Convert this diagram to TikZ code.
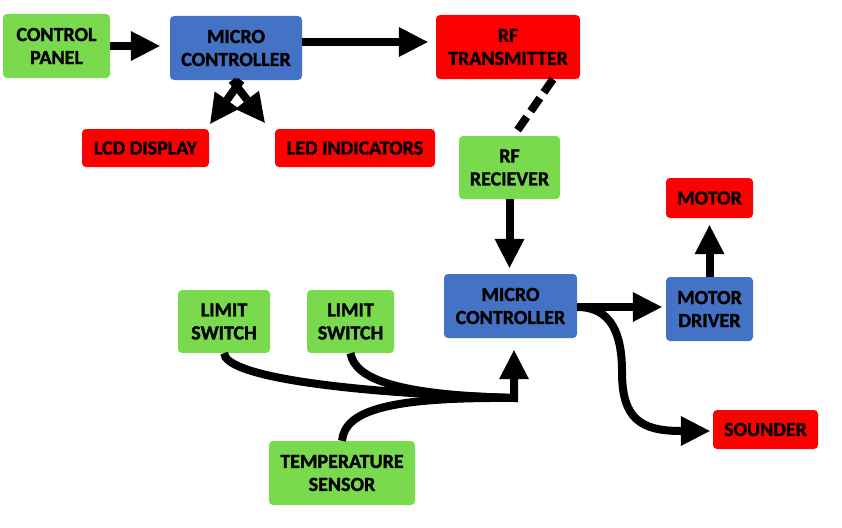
\documentclass[tikz,border=0pt]{standalone}
\usepackage{fontspec}
\setmainfont{Carlito}
\usetikzlibrary{arrows.meta,calc}
\definecolor{gfill}{RGB}{122,218,78}
\definecolor{bfill}{RGB}{68,114,196}
\definecolor{rfill}{RGB}{255,0,0}
\tikzset{
  box/.style={rounded corners=4pt, draw=none, align=center, inner sep=0pt,
    font=\bfseries\fontsize{20}{23}\selectfont\addfontfeatures{FakeBold=1.5}, text=black},
  gbox/.style={box, fill=gfill},
  bbox/.style={box, fill=bfill},
  rbox/.style={box, fill=rfill},
  wire/.style={line width=8pt, draw=black},
  arr/.style={wire, -{Triangle[width=30pt,length=29pt,line width=0pt]}},
}
\begin{document}
\begin{tikzpicture}[x=1pt,y=-1pt]
\useasboundingbox (0,0) rectangle (842,527);
% nodes
\node[gbox, minimum width=107pt, minimum height=64pt] (cp) at (56.5,46) {CONTROL\\PANEL};
\node[bbox, minimum width=132pt, minimum height=64pt] (mc1) at (236,48) {MICRO\\CONTROLLER};
\node[rbox, minimum width=144pt, minimum height=64pt] (rft) at (508,47) {RF\\TRANSMITTER};
\node[rbox, minimum width=127pt, minimum height=38pt] (lcd) at (145.5,148) {LCD DISPLAY};
\node[rbox, minimum width=160pt, minimum height=38pt] (led) at (355,148) {LED INDICATORS};
\node[gbox, minimum width=101pt, minimum height=63pt] (rfr) at (509.5,167.5) {RF\\RECIEVER};
\node[rbox, minimum width=87pt, minimum height=40pt] (motor) at (709.5,198) {MOTOR};
\node[bbox, minimum width=133pt, minimum height=64pt] (mc2) at (510.5,306) {MICRO\\CONTROLLER};
\node[bbox, minimum width=87pt, minimum height=64pt] (md) at (709.5,309) {MOTOR\\DRIVER};
\node[gbox, minimum width=92pt, minimum height=63pt] (ls1) at (224,321.5) {LIMIT\\SWITCH};
\node[gbox, minimum width=87pt, minimum height=63pt] (ls2) at (350.5,321.5) {LIMIT\\SWITCH};
\node[gbox, minimum width=146pt, minimum height=64pt] (ts) at (342,473) {TEMPERATURE\\SENSOR};
\node[rbox, minimum width=105pt, minimum height=39pt] (snd) at (765.5,429.5) {SOUNDER};
% helper coordinates
\coordinate (a1) at ($(mc1.east)+(0,-6)$);
\coordinate (a2) at ($(mc2.east)+(0,1)$);
\coordinate (m) at (514,398);
% connectors
\draw[arr, shorten >=10pt] (cp.east) -- (cp.east -| mc1.west);
\draw[arr, shorten >=8pt] (a1) -- (a1 -| rft.west);
\draw[arr] ($(mc1.south)+(5,0)$) -- ($(lcd.north east)+(1,-5)$);
\draw[arr] ($(mc1.south)+(-4,0)$) -- ($(led.north west)+(-10,-6)$);
\draw[wire, dash pattern=on 16pt off 7pt] ($(rft.south)+(45,0)$) -- ($(rfr.north)+(5.5,-2)$);
\draw[arr, shorten >=6pt] (rfr.south) -- (rfr.south |- mc2.north);
\draw[arr, shorten >=4pt] (a2) -- (a2 -| md.west);
\draw[arr, shorten >=7pt] (md.north) -- (md.north |- motor.south);
\draw[arr, shorten >=3pt] (a2) .. controls (612,307) and (622,335) .. (622,372)
   .. controls (622,418) and (640,431) .. ($(snd.west)+(0,1.5)$);
\draw[wire] (ls1.south) .. controls (226,375) and (330,392) .. (m);
\draw[wire] (ls2.south) .. controls (355,380) and (400,395) .. (m);
\draw[arr, line join=miter, shorten >=12pt] (ts.north) .. controls (345,410) and (390,397) .. (m) -- (m |- mc2.south);
\end{tikzpicture}
\end{document}
